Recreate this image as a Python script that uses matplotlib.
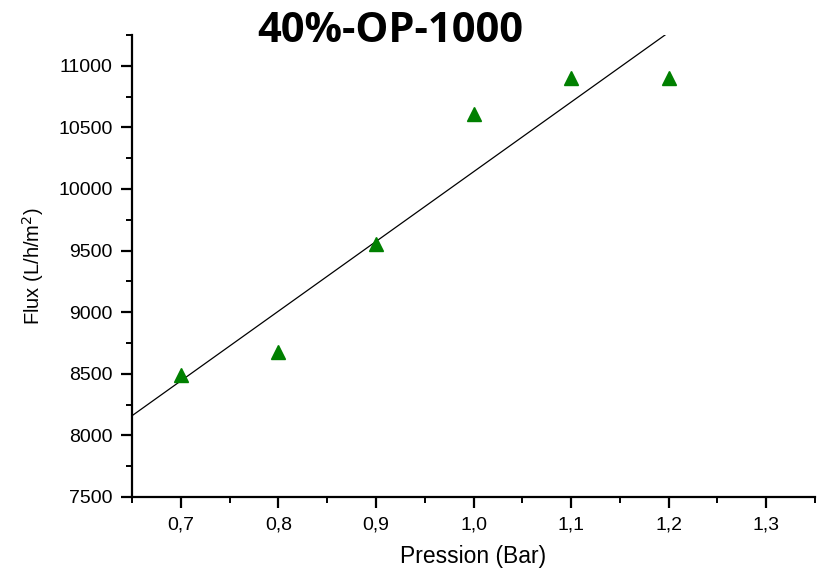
import numpy as np
import matplotlib.pyplot as plt
from matplotlib.ticker import MultipleLocator, FuncFormatter

pression = [0.7, 0.8, 0.9, 1.0, 1.1, 1.2]
flux = [8490, 8680, 9555, 10605, 10905, 10905]

plt.rcParams['font.family'] = ['Liberation Sans', 'DejaVu Sans']

fig = plt.figure(figsize=(8.19, 5.70), dpi=100)
ax = fig.add_axes([0.1612, 0.1281, 0.8339, 0.8105])

# linear fit through the points
slope, intercept = np.polyfit(pression, flux, 1)
xfit = np.array([0.65, 1.35])
ax.plot(xfit, slope * xfit + intercept, color='black', lw=0.9)

ax.plot(pression, flux, linestyle='none', marker='^', color='#008000',
        markersize=10, clip_on=False)

ax.set_xlim(0.65, 1.35)
ax.set_ylim(7500, 11250)

ax.spines['top'].set_visible(False)
ax.spines['right'].set_visible(False)
for s in ('left', 'bottom'):
    ax.spines[s].set_linewidth(1.6)

ax.xaxis.set_major_locator(MultipleLocator(0.1))
ax.xaxis.set_minor_locator(MultipleLocator(0.05))
ax.yaxis.set_major_locator(MultipleLocator(500))
ax.yaxis.set_minor_locator(MultipleLocator(250))
ax.xaxis.set_major_formatter(FuncFormatter(lambda v, p: f"{v:.1f}".replace('.', ',')))
ax.tick_params(which='major', direction='out', length=8, width=1.6, labelsize=14, pad=6)
ax.tick_params(which='minor', direction='out', length=4.5, width=1.4)

ax.set_xlabel('Pression (Bar)', fontsize=16.5, labelpad=8)
ax.set_ylabel('Flux (L/h/m$^2$)', fontsize=14.5, labelpad=9)

fig.text(0.477, 0.927, '40%-OP-1000', fontsize=30, fontweight='bold',
         family=['Open Sans', 'DejaVu Sans'], ha='center', va='baseline')

fig.savefig('out.png', dpi=100)
